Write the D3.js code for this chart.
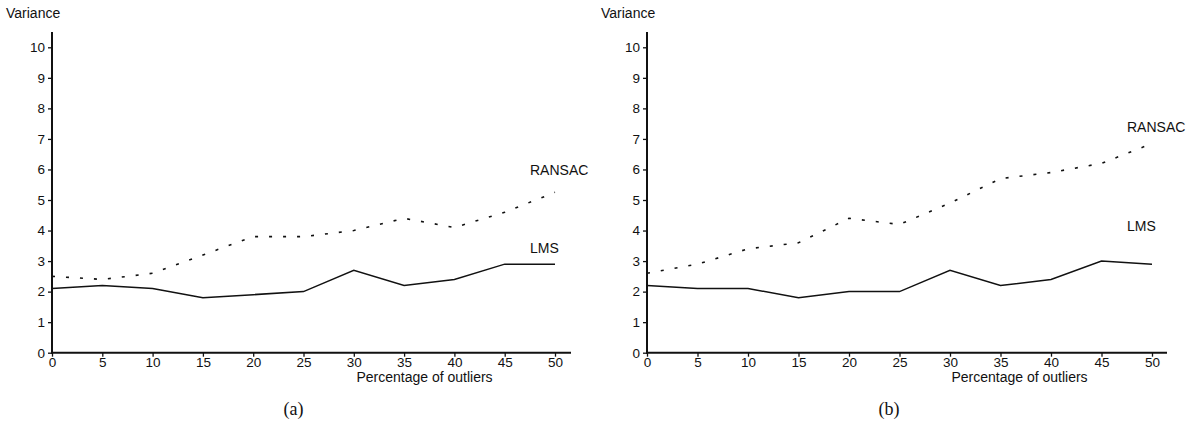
<!DOCTYPE html>
<html>
<head>
<meta charset="utf-8">
<script src="https://cdn.jsdelivr.net/npm/d3@7/dist/d3.min.js"></script>
<style>
  body { margin: 0; background: #fff; }
  svg { display: block; }
  .tick text { font-family: "Liberation Sans", Arial, sans-serif; font-size: 13.5px; fill: #111; }
  .lbl { font-family: "Liberation Sans", Arial, sans-serif; font-size: 14px; fill: #111; }
  .cap { font-family: "Liberation Serif", "Times New Roman", serif; font-size: 18px; fill: #111; }
</style>
</head>
<body>
<svg id="chart" width="1196" height="425"></svg>
<script>
// Outlier percentages on the x axis
const outlierPct = [0, 5, 10, 15, 20, 25, 30, 35, 40, 45, 50];
const yTicks = [0, 1, 2, 3, 4, 5, 6, 7, 8, 9, 10];

// Panel (a)
const lmsA    = [2.1, 2.2, 2.1, 1.8, 1.9, 2.0, 2.7, 2.2, 2.4, 2.9, 2.9];
const ransacA = [2.5, 2.4, 2.6, 3.2, 3.8, 3.8, 4.0, 4.4, 4.1, 4.6, 5.25];

// Panel (b)
const lmsB    = [2.2, 2.1, 2.1, 1.8, 2.0, 2.0, 2.7, 2.2, 2.4, 3.0, 2.9];
const ransacB = [2.6, 2.9, 3.4, 3.6, 4.4, 4.2, 4.9, 5.7, 5.9, 6.2, 6.85];

const panels = [
  { caption: "(a)", lms: lmsA, ransac: ransacA, x0: 52,  x50: 555,  axisEnd: 571,
    ransacLabel: [530, 175], lmsLabel: [530, 253], titleX: 6, xTitleX: 424.5, capX: 293.5 },
  { caption: "(b)", lms: lmsB, ransac: ransacB, x0: 647, x50: 1152, axisEnd: 1167,
    ransacLabel: [1127, 132], lmsLabel: [1127, 231], titleX: 601, xTitleX: 1019.5, capX: 889 }
];

const svg = d3.select("#chart");
const yTop = 47.3, yBottom = 352.7;

panels.forEach(p => {
  const g = svg.append("g");
  const x = d3.scaleLinear().domain([0, 50]).range([p.x0, p.x50]);
  const y = d3.scaleLinear().domain([0, 10]).range([yBottom, yTop]);

  // y axis
  const yAxis = g.append("g")
    .attr("transform", `translate(${p.x0},0)`)
    .call(d3.axisLeft(y).tickValues(yTicks).tickSize(4).tickPadding(3).tickFormat(d3.format("d")));
  yAxis.select(".domain").remove();
  yAxis.selectAll(".tick line").attr("stroke", "#111").attr("stroke-width", 1.3);
  g.append("line")
    .attr("x1", p.x0).attr("x2", p.x0)
    .attr("y1", 32).attr("y2", yBottom + 1)
    .attr("stroke", "#111").attr("stroke-width", 2);

  // x axis
  const xAxis = g.append("g")
    .attr("transform", `translate(0,${yBottom})`)
    .call(d3.axisBottom(x).tickValues(outlierPct).tickSize(4).tickPadding(1).tickFormat(d3.format("d")));
  xAxis.select(".domain").remove();
  xAxis.selectAll(".tick line").attr("stroke", "#111").attr("stroke-width", 1.3);
  g.append("line")
    .attr("x1", p.x0 - 1).attr("x2", p.axisEnd)
    .attr("y1", yBottom).attr("y2", yBottom)
    .attr("stroke", "#111").attr("stroke-width", 2);

  const line = d3.line()
    .x((d, i) => x(outlierPct[i]))
    .y(d => y(d));

  // RANSAC: dotted
  g.append("path")
    .datum(p.ransac)
    .attr("d", line)
    .attr("fill", "none")
    .attr("stroke", "#111")
    .attr("stroke-width", 1.6)
    .attr("stroke-dasharray", "3,11");

  // LMS: solid
  g.append("path")
    .datum(p.lms)
    .attr("d", line)
    .attr("fill", "none")
    .attr("stroke", "#111")
    .attr("stroke-width", 1.5);

  g.append("text").attr("class", "lbl")
    .attr("x", p.ransacLabel[0]).attr("y", p.ransacLabel[1]).text("RANSAC");
  g.append("text").attr("class", "lbl")
    .attr("x", p.lmsLabel[0]).attr("y", p.lmsLabel[1]).text("LMS");

  g.append("text").attr("class", "lbl")
    .attr("x", p.titleX).attr("y", 18).text("Variance");
  g.append("text").attr("class", "lbl")
    .attr("x", p.xTitleX).attr("y", 382).attr("text-anchor", "middle")
    .text("Percentage of outliers");
  g.append("text").attr("class", "cap")
    .attr("x", p.capX).attr("y", 415).attr("text-anchor", "middle")
    .text(p.caption);
});
</script>
</body>
</html>
